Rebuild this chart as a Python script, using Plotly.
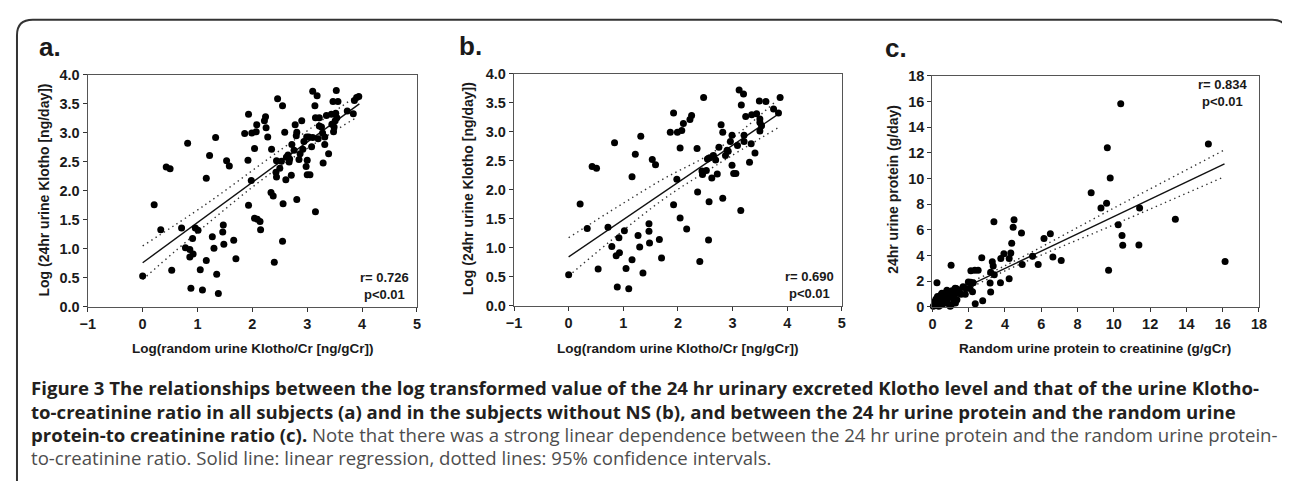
import plotly.graph_objects as go

# ---------------- Panel a data ----------------
a_x = [0.00, 0.21, 0.33, 0.43, 0.50, 0.53, 0.71, 0.82, 0.78, 0.86, 0.86, 0.88, 0.92, 0.91, 0.96, 1.01,
       1.05, 1.09, 1.16, 1.16, 1.22, 1.27, 1.30, 1.33, 1.35, 1.38, 1.47, 1.46, 1.48, 1.53, 1.58, 1.66,
       1.70, 1.86, 1.93, 1.92, 1.93, 1.99, 1.98, 2.04, 2.04, 2.07, 2.08, 2.09, 2.14, 2.15, 2.22, 2.24,
       2.25, 2.28, 2.35, 2.34, 2.38, 2.40, 2.46, 2.44, 2.43, 2.44, 2.50, 2.53, 2.55, 2.56, 2.55, 2.59,
       2.61, 2.62, 2.67, 2.71, 2.72, 2.76, 2.78, 2.81, 2.81, 2.85, 2.87, 2.90, 2.92, 2.94, 2.98, 2.99,
       3.00, 3.00, 3.05, 3.08, 3.10, 3.14, 3.15, 3.15, 3.18, 3.20, 3.22, 3.26, 3.28, 3.29, 3.32, 3.32,
       3.35, 3.39, 3.44, 3.47, 3.48, 3.51, 3.52, 3.53, 3.56, 3.73, 3.84, 3.86, 3.94, 3.90, 2.65, 3.03,
       3.45, 3.49, 3.54, 3.22, 2.80, 3.10, 2.68]
a_y = [0.53, 1.76, 1.33, 2.41, 2.38, 0.63, 1.36, 2.82, 1.02, 0.99, 0.86, 0.32, 0.91, 1.18, 1.36, 1.32,
       0.64, 0.29, 0.80, 2.22, 2.61, 1.21, 1.01, 2.92, 0.56, 0.23, 1.41, 1.29, 1.08, 2.52, 2.43, 1.15,
       0.83, 2.99, 3.32, 2.53, 1.75, 3.00, 2.18, 2.73, 1.53, 3.02, 3.14, 1.51, 1.47, 1.33, 3.21, 3.28,
       3.09, 2.93, 2.72, 1.97, 1.91, 0.77, 3.59, 2.52, 2.32, 2.24, 2.39, 2.51, 3.47, 1.78, 1.13, 3.01,
       2.19, 2.58, 2.50, 2.27, 2.80, 2.70, 3.14, 3.01, 1.85, 2.54, 2.64, 3.21, 2.72, 2.85, 2.42, 2.93,
       2.53, 2.28, 2.28, 2.76, 3.72, 3.47, 3.26, 1.64, 3.64, 2.90, 3.26, 3.10, 3.00, 2.48, 2.80, 2.93,
       3.30, 2.64, 3.32, 3.54, 3.02, 3.21, 3.34, 3.73, 3.54, 3.38, 3.33, 3.56, 3.63, 3.61, 2.62, 2.93,
       3.15, 3.10, 3.26, 3.12, 2.95, 2.92, 2.55]
a_fit_x = [0.0, 3.95]
a_fit_y = [0.76, 3.50]
a_up_x = [0.0, 1.14, 2.43, 3.87]
a_up_y = [1.05, 1.76, 2.65, 3.62]
a_lo_x = [0.0, 1.14, 2.43, 3.87]
a_lo_y = [0.47, 1.40, 2.37, 3.25]

# ---------------- Panel b data ----------------
b_x = [0.00, 0.21, 0.34, 0.43, 0.51, 0.54, 0.72, 0.84, 0.79, 0.87, 0.89, 0.92, 0.93, 1.02, 1.05, 1.10,
       1.16, 1.16, 1.22, 1.27, 1.30, 1.32, 1.36, 1.47, 1.47, 1.48, 1.53, 1.59, 1.66, 1.70, 1.86, 1.92,
       1.92, 1.98, 1.99, 2.04, 2.04, 2.07, 2.10, 2.16, 2.22, 2.25, 2.35, 2.36, 2.40, 2.47, 2.44, 2.45,
       2.52, 2.54, 2.57, 2.56, 2.62, 2.65, 2.69, 2.72, 2.75, 2.79, 2.82, 2.82, 2.87, 2.90, 2.96, 2.99,
       2.99, 3.02, 3.06, 3.09, 3.12, 3.16, 3.15, 3.20, 3.21, 3.21, 3.24, 3.31, 3.34, 3.35, 3.41, 3.44,
       3.49, 3.50, 3.50, 3.50, 3.53, 3.61, 3.75, 3.84, 3.87, 2.58, 2.92]
b_y = [0.53, 1.75, 1.33, 2.40, 2.37, 0.63, 1.35, 2.81, 1.02, 0.86, 0.32, 1.17, 0.91, 1.29, 0.64, 0.29,
       0.79, 2.22, 2.61, 1.21, 1.01, 2.92, 0.56, 1.41, 1.28, 1.08, 2.52, 2.43, 1.14, 0.82, 2.99, 3.32,
       1.74, 2.18, 2.99, 2.72, 1.51, 3.02, 3.14, 1.32, 3.21, 3.28, 2.71, 1.96, 0.76, 3.59, 2.32, 2.26,
       2.33, 2.53, 1.79, 1.13, 2.20, 2.59, 2.51, 2.27, 2.73, 3.12, 2.99, 1.85, 2.59, 2.68, 2.83, 2.94,
       2.42, 2.28, 2.28, 2.76, 3.72, 3.46, 1.64, 3.65, 2.94, 2.83, 3.26, 2.47, 2.79, 3.29, 2.63, 3.31,
       3.53, 3.22, 3.16, 3.01, 3.10, 3.52, 3.39, 3.32, 3.59, 2.55, 2.66]
b_fit_x = [0.0, 3.85]
b_fit_y = [0.84, 3.31]
b_up_x = [0.0, 1.67, 2.70, 3.80]
b_up_y = [1.17, 2.15, 2.68, 3.53]
b_lo_x = [0.0, 1.67, 2.70, 3.82]
b_lo_y = [0.51, 1.79, 2.42, 3.06]

# ---------------- Panel c data ----------------
c_x = [10.38, 15.21, 9.64, 9.80, 8.75, 9.29, 9.60, 11.42, 13.39, 10.24, 10.45, 10.49, 11.38, 16.13, 9.71,
       7.10, 6.64, 6.50, 6.15, 5.52, 5.83, 4.91, 4.95, 4.50, 4.45, 4.37, 4.32, 4.23, 4.23, 3.94, 3.77,
       3.75, 3.39, 3.30, 3.35, 3.21, 3.41, 3.18, 3.21, 2.72, 2.77, 2.36, 1.03, 0.25, 2.12, 2.34, 2.52,
       2.11, 2.07, 2.21, 1.81, 1.49,
       0.05, 0.10, 0.15, 0.18, 0.22, 0.25, 0.30, 0.32, 0.35, 0.38, 0.40, 0.42, 0.45, 0.48, 0.50, 0.52,
       0.55, 0.58, 0.60, 0.65, 0.68, 0.70, 0.75, 0.78, 0.80, 0.85, 0.90, 0.94, 0.98, 1.00, 1.03, 1.08,
       1.13, 1.18, 1.20, 1.25, 1.27, 1.31, 1.35, 1.40, 1.58, 1.69, 1.85, 1.98, 2.25, 0.12, 0.28, 0.62,
       0.72, 0.20, 0.46]
c_y = [15.82, 12.70, 12.40, 10.04, 8.89, 7.71, 8.08, 7.71, 6.83, 6.40, 5.55, 4.80, 4.82, 3.54, 2.86,
       3.62, 3.89, 5.70, 5.32, 3.94, 3.29, 5.75, 3.29, 6.78, 6.20, 4.95, 4.19, 3.77, 2.18, 4.14, 3.77,
       1.88, 6.63, 3.51, 3.19, 2.69, 2.49, 1.86, 1.15, 3.82, 0.48, 0.23, 3.24, 1.88, 2.81, 2.86, 2.86,
       1.91, 1.43, 1.18, 0.98, 1.31,
       0.05, 0.15, 0.30, 0.10, 0.45, 0.20, 0.60, 0.35, 0.05, 0.75, 0.25, 0.50, 0.90, 0.40, 0.65, 1.05,
       0.20, 0.80, 0.50, 1.00, 0.35, 0.70, 0.90, 0.55, 1.30, 0.25, 0.75, 1.18, 0.05, 0.95, 0.13, 1.25,
       0.68, 0.45, 0.93, 1.45, 0.30, 1.43, 0.55, 1.06, 0.98, 1.56, 1.43, 1.93, 1.88, 0.40, 0.80, 0.30,
       1.10, 0.60, 0.15]
c_fit_x = [0.0, 16.1]
c_fit_y = [0.30, 11.15]
c_up_x = [0.0, 4.0, 10.0, 16.1]
c_up_y = [0.60, 3.20, 7.70, 12.23]
c_lo_x = [0.0, 4.0, 10.0, 16.1]
c_lo_y = [0.00, 2.80, 6.40, 10.15]

stats_a = ["r= 0.726", "p<0.01"]
stats_b = ["r= 0.690", "p<0.01"]
stats_c = ["r= 0.834", "p<0.01"]

a_ticks = [-1, 0, 1, 2, 3, 4, 5]
ay_ticks = [0.0, 0.5, 1.0, 1.5, 2.0, 2.5, 3.0, 3.5, 4.0]
c_ticks = list(range(0, 19, 2))

# --------------------------------------------------------------
# The page body keeps an 8px default margin, so the figure is laid out
# in page pixels offset by that margin.
OFF = 8
W, H = 1290 - OFF, 481 - OFF

def pxx(x):
    return (x - OFF) / W

def pyy(y):
    return 1 - (y - OFF) / H

FONT = "Liberation Sans, Arial, sans-serif"

fig = go.Figure()

panels = [
    ("x", "y", a_x, a_y, a_fit_x, a_fit_y, a_up_x, a_up_y, a_lo_x, a_lo_y),
    ("x2", "y2", b_x, b_y, b_fit_x, b_fit_y, b_up_x, b_up_y, b_lo_x, b_lo_y),
    ("x3", "y3", c_x, c_y, c_fit_x, c_fit_y, c_up_x, c_up_y, c_lo_x, c_lo_y),
]
for xa, ya, px_, py_, fx, fy, ux, uy, lx, ly in panels:
    for cx, cy in ((ux, uy), (lx, ly)):
        fig.add_trace(go.Scatter(x=cx, y=cy, mode="lines", xaxis=xa, yaxis=ya,
                                 line=dict(color="#333", width=1.4, dash="1.4px,3.6px", shape="spline"),
                                 showlegend=False, hoverinfo="skip"))
    fig.add_trace(go.Scatter(x=fx, y=fy, mode="lines", xaxis=xa, yaxis=ya,
                             line=dict(color="#111", width=1.4),
                             showlegend=False, hoverinfo="skip"))
    fig.add_trace(go.Scatter(x=px_, y=py_, mode="markers", xaxis=xa, yaxis=ya,
                             marker=dict(size=7, color="black"), cliponaxis=False,
                             showlegend=False))

tickfont = dict(family=FONT, size=14.5, color="#1a1a1a", weight="bold")
common = dict(showline=True, mirror=True, linecolor="#555", linewidth=1.4,
              ticks="outside", ticklen=4, tickwidth=1.2, tickcolor="#333",
              showgrid=False, zeroline=False, tickfont=tickfont, fixedrange=True)

# plot-area pixel boxes (page pixels)
box_a = (80.7, 414.0, 69.0, 309.0)
box_b = (512.3, 844.3, 67.7, 307.7)
box_c = (936.0, 1266.7, 70.0, 309.0)

def dom(box):
    x0, x1, y0, y1 = box
    return [pxx(x0), pxx(x1)], [pyy(y1), pyy(y0)]

dxa, dya = dom(box_a)
dxb, dyb = dom(box_b)
dxc, dyc = dom(box_c)

fig.update_layout(
    xaxis=dict(domain=dxa, range=[-1, 5], tickvals=a_ticks, anchor="y", **common),
    yaxis=dict(domain=dya, range=[0, 4], tickvals=ay_ticks, tickformat=".1f", anchor="x", **common),
    xaxis2=dict(domain=dxb, range=[-1, 5], tickvals=a_ticks, anchor="y2", **common),
    yaxis2=dict(domain=dyb, range=[0, 4], tickvals=ay_ticks, tickformat=".1f", anchor="x2", **common),
    xaxis3=dict(domain=dxc, range=[0, 18], tickvals=c_ticks, anchor="y3", **common),
    yaxis3=dict(domain=dyc, range=[0, 18], tickvals=c_ticks, anchor="x3", **common),
)

ann = []
def A(text, x, y, size, xanchor="center", yanchor="middle", angle=0, color="#1a1a1a", family=FONT):
    ann.append(dict(text=text, x=pxx(x), y=pyy(y), xref="paper", yref="paper",
                    xanchor=xanchor, yanchor=yanchor, showarrow=False, textangle=angle,
                    font=dict(family=family, size=size, color=color)))

# panel letters
A("<b>a.</b>", 29, 40, 26, xanchor="left")
A("<b>b.</b>", 455, 39, 26, xanchor="left")
A("<b>c.</b>", 886, 41, 26, xanchor="left")

# y titles
A("<b>Log (24hr urine Klotho [ng/day])</b>", 36, 188, 14, angle=-90)
A("<b>Log (24hr urine Klotho [ng/day])</b>", 466, 187, 14, angle=-90)
A("<b>24hr urine protein (g/day)</b>", 896, 187, 14, angle=-90)

# x titles
A("<b>Log(random urine Klotho/Cr [ng/gCr])</b>", 247, 352, 13.5)
A("<b>Log(random urine Klotho/Cr [ng/gCr])</b>", 678, 352, 13.5)
A("<b>Random urine protein to creatinine (g/gCr)</b>", 1101, 352, 13.5)

# stats
A("<b>" + stats_a[0] + "<br>" + stats_a[1] + "</b>", 354, 287, 13, xanchor="left")
A("<b>" + stats_b[0] + "<br>" + stats_b[1] + "</b>", 785, 286, 13, xanchor="left")
A("<b>" + stats_c[0] + "<br>" + stats_c[1] + "</b>", 1203, 88, 13, xanchor="left")

# caption
CAP = "Open Sans, Noto Sans, sans-serif"
cap_size = 18.6
dark = "#231f20"
grey = "#4d4d4d"
A("<b>Figure 3 The relationships between the log transformed value of the 24 hr urinary excreted Klotho level and that of the urine Klotho-</b>",
  21, 392, cap_size, xanchor="left", color=dark, family=CAP)
A("<b>to-creatinine ratio in all subjects (a) and in the subjects without NS (b), and between the 24 hr urine protein and the random urine</b>",
  21, 417, cap_size, xanchor="left", color=dark, family=CAP)
A("<b>protein-to creatinine ratio (c).</b> <span style='color:" + grey + "'>Note that there was a strong linear dependence between the 24 hr urine protein and the random urine protein-</span>",
  21, 441, cap_size, xanchor="left", color=dark, family=CAP)
A("to-creatinine ratio. Solid line: linear regression, dotted lines: 95% confidence intervals.",
  21, 465, cap_size, xanchor="left", color=grey, family=CAP)

# rounded border frame
def P(x, y):
    return f"{pxx(x):.5f},{pyy(y):.5f}"
path = ("M " + P(9, 490) + " L " + P(9, 28) + " Q " + P(9, 12) + " " + P(25, 12) +
        " L " + P(1280, 12) + " Q " + P(1296, 12) + " " + P(1296, 28))
shapes = [dict(type="path", path=path, xref="paper", yref="paper",
               line=dict(color="#333", width=2))]

fig.update_layout(
    width=W, height=H, margin=dict(l=0, r=0, t=0, b=0),
    paper_bgcolor="white", plot_bgcolor="white",
    annotations=ann, shapes=shapes, showlegend=False,
)

fig.write_html("out.html", config={"displayModeBar": False})
